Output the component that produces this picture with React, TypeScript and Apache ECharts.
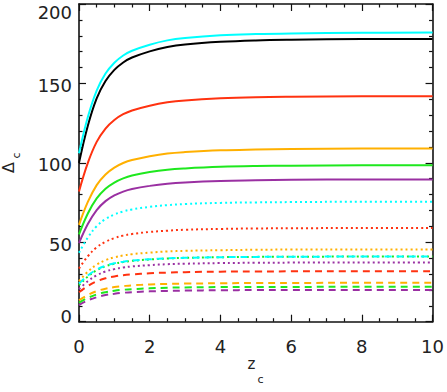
import React, { useEffect, useRef } from 'react';
import * as echarts from 'echarts';

const zValues = [0, 0.25, 0.5, 0.75, 1, 1.25, 1.5, 2, 2.5, 3, 4, 5, 6, 8, 10];

const solidCyan = [106, 128.8, 145.5, 156.2, 163, 167.6, 170.6, 174.4, 177.1, 178.6, 180.3, 181.1, 181.5, 181.9, 182];
const solidBlack = [100, 123.4, 140.6, 151.5, 158.5, 163.2, 166.3, 170.2, 172.9, 174.5, 176.2, 177.1, 177.5, 177.9, 178];
const solidRed = [82, 100, 113.2, 121.6, 127, 130.6, 133, 136, 138.1, 139.3, 140.6, 141.3, 141.6, 141.9, 142];
const solidOrange = [61, 75.4, 86, 92.7, 97, 99.9, 101.8, 104.2, 105.9, 106.8, 107.9, 108.4, 108.7, 109, 109];
const solidGreen = [55, 68.1, 77.6, 83.7, 87.6, 90.2, 92, 94.2, 95.7, 96.5, 97.5, 98, 98.2, 98.5, 98.5];
const solidPurple = [49.5, 61.5, 70.3, 75.9, 79.5, 81.9, 83.5, 85.5, 86.9, 87.7, 88.6, 89, 89.3, 89.5, 89.5];

const dottedCyan = [43.4, 53, 60.1, 64.6, 67.5, 69.4, 70.7, 72.3, 73.4, 74.1, 74.8, 75.1, 75.3, 75.5, 75.5];
const dottedRed = [33.5, 41.2, 46.8, 50.3, 52.6, 54.2, 55.2, 56.5, 57.3, 57.9, 58.4, 58.7, 58.8, 59, 59];
const dottedOrange = [25.5, 31.5, 35.9, 38.7, 40.5, 41.7, 42.5, 43.5, 44.2, 44.6, 45, 45.3, 45.4, 45.5, 45.5];
const dottedGreen = [23, 28.4, 32.4, 34.9, 36.5, 37.6, 38.3, 39.2, 39.8, 40.2, 40.6, 40.8, 40.9, 41, 41];
const dottedPurple = [20.5, 25.5, 29.2, 31.6, 33.1, 34.1, 34.8, 35.6, 36.2, 36.5, 36.9, 37.1, 37.2, 37.3, 37.3];

const dashedCyan = [24, 29.1, 32.8, 35.2, 36.8, 37.8, 38.5, 39.3, 39.9, 40.2, 40.6, 40.8, 40.9, 41, 41];
const dashedRed = [18.5, 22.5, 25.4, 27.3, 28.5, 29.3, 29.8, 30.5, 30.9, 31.2, 31.5, 31.6, 31.7, 31.8, 31.8];
const dashedOrange = [13.5, 16.8, 19.2, 20.8, 21.8, 22.4, 22.9, 23.4, 23.8, 24, 24.2, 24.4, 24.4, 24.5, 24.5];
const dashedGreen = [12, 15, 17.2, 18.6, 19.5, 20.1, 20.5, 21, 21.4, 21.6, 21.8, 21.9, 21.9, 22, 22];
const dashedPurple = [10.5, 13.4, 15.4, 16.8, 17.6, 18.2, 18.6, 19.1, 19.4, 19.6, 19.8, 19.9, 19.9, 20, 20];

const xTickLabels = ['0', '2', '4', '6', '8', '10'];
const yTickLabels = ['0', '50', '100', '150', '200'];

const CYAN = '#00ffff';
const BLACK = '#000000';
const RED = '#ff3210';
const ORANGE = '#ffb000';
const GREEN = '#1ee81e';
const PURPLE = '#9a30a2';

export default function App() {
  const ref = useRef<HTMLDivElement>(null);
  useEffect(() => {
    const chart = echarts.init(ref.current!, null, { renderer: 'svg' });
    const mk = (name: string, data: number[], color: string, type: any) => ({
      name,
      type: 'line',
      data: zValues.map((x, i) => [x, data[i]]),
      showSymbol: false,
      smooth: 0.4,
      lineStyle: { color, width: 2, type, cap: 'butt' },
    });
    const DOT = [2, 3];
    const DASH = [7, 5];
    const series = [
      mk('dashedPurple', dashedPurple, PURPLE, DASH),
      mk('dashedGreen', dashedGreen, GREEN, DASH),
      mk('dashedOrange', dashedOrange, ORANGE, DASH),
      mk('dashedRed', dashedRed, RED, DASH),
      mk('dottedPurple', dottedPurple, PURPLE, DOT),
      mk('dottedGreen', dottedGreen, GREEN, DOT),
      mk('dashedCyan', dashedCyan, CYAN, DASH),
      mk('dottedOrange', dottedOrange, ORANGE, DOT),
      mk('dottedRed', dottedRed, RED, DOT),
      mk('dottedCyan', dottedCyan, CYAN, DOT),
      mk('solidPurple', solidPurple, PURPLE, 'solid'),
      mk('solidGreen', solidGreen, GREEN, 'solid'),
      mk('solidOrange', solidOrange, ORANGE, 'solid'),
      mk('solidRed', solidRed, RED, 'solid'),
      mk('solidBlack', solidBlack, BLACK, 'solid'),
      mk('solidCyan', solidCyan, CYAN, 'solid'),
    ];
    const axisLineStyle = { color: '#111', width: 1.6 };
    const tickStyle = { color: '#111', width: 1.2 };
    const font = 'DejaVu Sans';
    const xCommon = {
      type: 'value',
      min: 0,
      max: 10,
      interval: 2,
      axisLine: { show: true, onZero: false, lineStyle: axisLineStyle },
      axisTick: { show: true, inside: true, length: 7, lineStyle: tickStyle },
      minorTick: { show: true, splitNumber: 4, length: 3.5, lineStyle: tickStyle },
      splitLine: { show: false },
      minorSplitLine: { show: false },
    };
    const yCommon = {
      type: 'value',
      min: 0,
      max: 200,
      interval: 50,
      axisLine: { show: true, onZero: false, lineStyle: axisLineStyle },
      axisTick: { show: true, inside: true, length: 7, lineStyle: tickStyle },
      minorTick: { show: true, splitNumber: 5, length: 3.5, lineStyle: tickStyle },
      splitLine: { show: false },
      minorSplitLine: { show: false },
    };
    const labelRich = {
      t: { fontSize: 18, fontFamily: font, color: '#222', padding: [17, 0, 0, 0] },
      b: { fontSize: 18, fontFamily: font, color: '#222', padding: [0, 0, 11, 0] },
      m: { fontSize: 18, fontFamily: font, color: '#222', padding: [4, 0, 0, 0] },
    };
    chart.setOption({
      animation: false,
      backgroundColor: '#ffffff',
      grid: { left: 79, right: 13, top: 4, bottom: 70.3, containLabel: false },
      xAxis: [
        {
          ...xCommon,
          position: 'bottom',
          axisLabel: {
            show: true,
            fontSize: 18,
            fontFamily: font,
            color: '#222',
            margin: 16,
            formatter: (v: number) => xTickLabels[Math.round(v / 2)] ?? '',
          },
        },
        { ...xCommon, position: 'top', axisLabel: { show: false } },
      ],
      yAxis: [
        {
          ...yCommon,
          position: 'left',
          axisLabel: {
            show: true,
            margin: 7,
            formatter: (v: number) => {
              const s = yTickLabels[Math.round(v / 50)] ?? '';
              if (v === 200) return '{t|' + s + '}';
              if (v === 0) return '{b|' + s + '}';
              return '{m|' + s + '}';
            },
            rich: labelRich,
          },
        },
        { ...yCommon, position: 'right', axisLabel: { show: false } },
      ],
      graphic: [
        {
          type: 'text',
          x: 251.5,
          y: 364,
          style: { text: 'z', fontSize: 15, fontFamily: font, fill: '#222', align: 'center', verticalAlign: 'middle' },
        },
        {
          type: 'text',
          x: 260.5,
          y: 379,
          style: { text: 'c', fontSize: 11, fontFamily: font, fill: '#222', align: 'center', verticalAlign: 'middle' },
        },
        {
          type: 'text',
          x: 8,
          y: 167.5,
          rotation: Math.PI / 2,
          style: { text: 'Δ', fontSize: 16, fontFamily: font, fill: '#222', align: 'center', verticalAlign: 'middle' },
        },
        {
          type: 'text',
          x: 16.5,
          y: 155.5,
          rotation: Math.PI / 2,
          style: { text: 'c', fontSize: 11, fontFamily: font, fill: '#222', align: 'center', verticalAlign: 'middle' },
        },
      ],
      series,
    });
    return () => chart.dispose();
  }, []);
  return <div ref={ref} style={{ position: 'absolute', left: 0, top: 0, width: 447, height: 392 }} />;
}
